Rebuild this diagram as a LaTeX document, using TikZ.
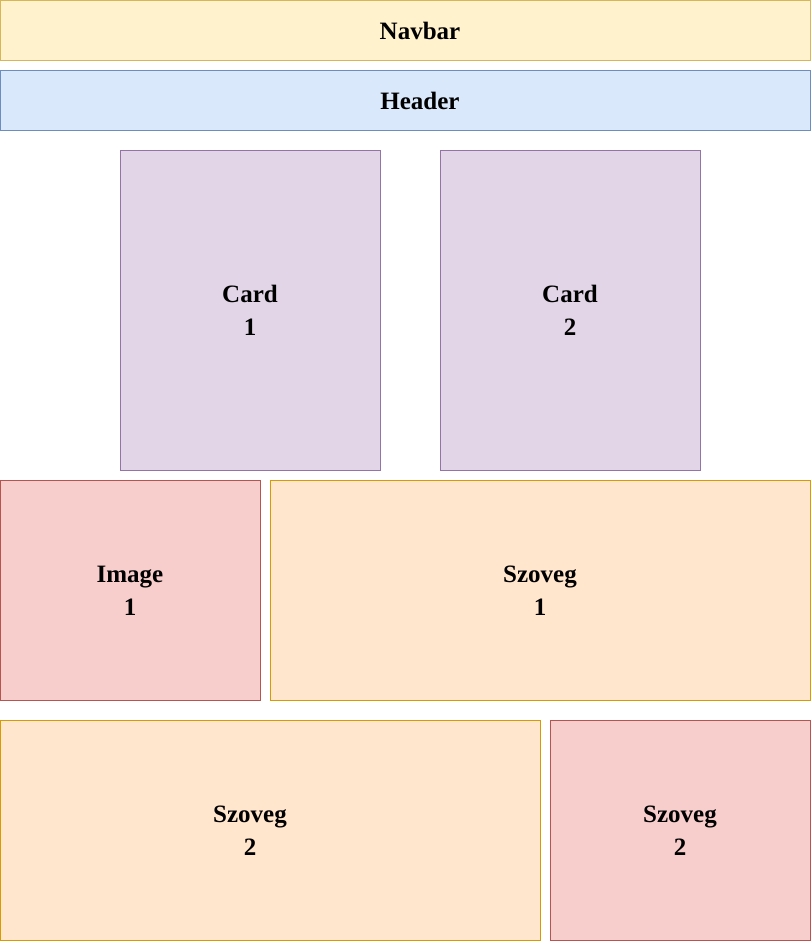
\documentclass[tikz,border=0pt]{standalone}
\usepackage{fontspec}
\setmainfont{Liberation Serif}
\definecolor{yfill}{HTML}{FFF2CC}\definecolor{ydraw}{HTML}{D6B656}
\definecolor{bfill}{HTML}{DAE8FC}\definecolor{bdraw}{HTML}{6C8EBF}
\definecolor{pfill}{HTML}{E1D5E7}\definecolor{pdraw}{HTML}{9673A6}
\definecolor{rfill}{HTML}{F8CECC}\definecolor{rdraw}{HTML}{B85450}
\definecolor{ofill}{HTML}{FFE6CC}\definecolor{odraw}{HTML}{D79B00}
\begin{document}
\begin{tikzpicture}[x=1pt,y=-1pt,
  box/.style={line width=0.8pt},
  lbl/.style={font=\fontsize{25}{33}\selectfont\bfseries,align=center,inner sep=0pt},
  yel/.style={box,fill=yfill,draw=ydraw},
  blu/.style={box,fill=bfill,draw=bdraw},
  pur/.style={box,fill=pfill,draw=pdraw},
  red/.style={box,fill=rfill,draw=rdraw},
  ora/.style={box,fill=ofill,draw=odraw}]
\useasboundingbox (0,0) rectangle (811,941);
\path[yel] (0.5,0.5) rectangle (810.5,60.5);
\path[blu] (0.5,70.5) rectangle (810.5,130.5);
\path[pur] (120.5,150.5) rectangle (380.5,470.5);
\path[pur] (440.5,150.5) rectangle (700.5,470.5);
\path[red] (0.5,480.5) rectangle (260.5,700.5);
\path[ora] (270.5,480.5) rectangle (810.5,700.5);
\path[ora] (0.5,720.5) rectangle (540.5,940.5);
\path[red] (550.5,720.5) rectangle (810.5,940.5);
\node[lbl] (nav) at (420,30.5) {Navbar};
\node[lbl] (hdr) at (420,100.5) {Header};
\node[lbl] (c1) at (250,310.5) {Card\\1};
\node[lbl] (c2) at (570,310.5) {Card\\2};
\node[lbl] (i1) at (130,590.5) {Image\\1};
\node[lbl] (s1) at (540,590.5) {Szoveg\\1};
\node[lbl] (s2) at (250,830.5) {Szoveg\\2};
\node[lbl] (s3) at (680,830.5) {Szoveg\\2};
\end{tikzpicture}
\end{document}
